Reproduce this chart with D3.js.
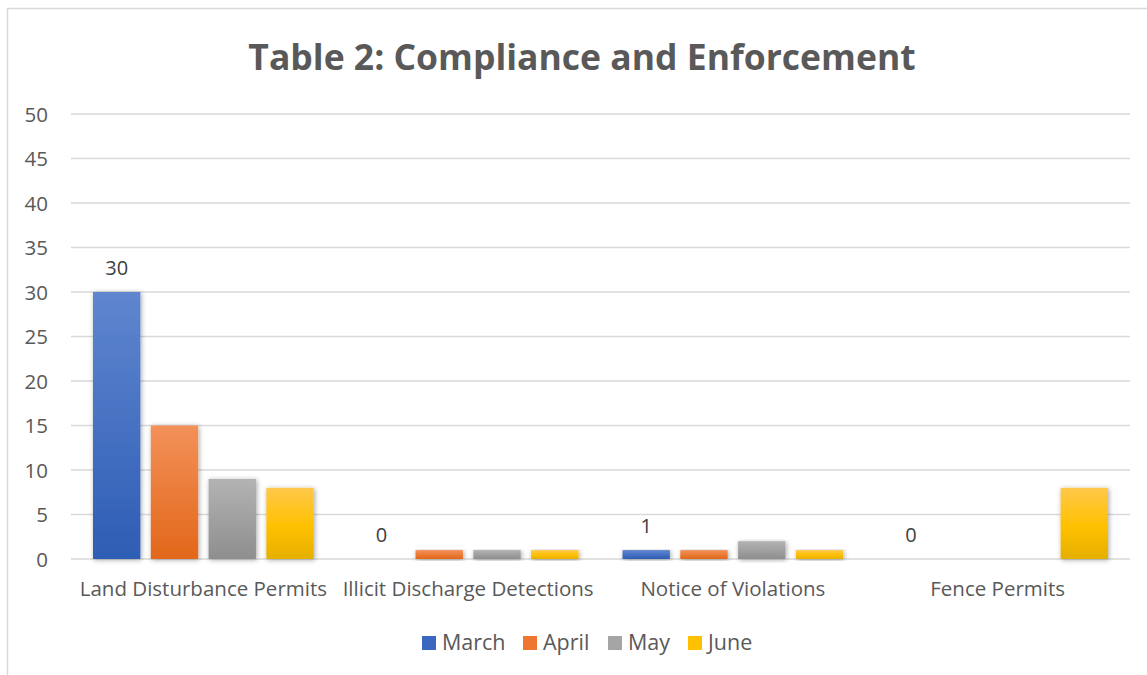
<!DOCTYPE html>
<html><head><meta charset="utf-8">
<script src="https://cdn.jsdelivr.net/npm/d3@7"></script>
<style>body{margin:0;background:#fff}svg{display:block}</style>
</head><body><svg id="c" width="1147" height="675"></svg>
<script>
const title = "Table 2: Compliance and Enforcement";
const categories = ["Land Disturbance Permits","Illicit Discharge Detections","Notice of Violations","Fence Permits"];
const seriesNames = ["March","April","May","June"];
const march = [30,0,1,0];
const april = [15,1,1,0];
const may = [9,1,2,0];
const june = [8,1,1,8];
const yTicks = [0,5,10,15,20,25,30,35,40,45,50];
const seriesValues = [march, april, may, june];
const colors = [["#5f86cf","#2e5db5"],["#f39159","#e2671a"],["#b3b3b3","#8e8e8e"],["#ffc84a","#ffc000","#e5b000"]];
const legendColors = ["#3a68c0","#ee7630","#a5a5a5","#ffc000"];

const svg = d3.select("#c");
const font = "'Open Sans', 'Liberation Sans', sans-serif";
const defs = svg.append("defs");
colors.forEach((c,i)=>{
  const g = defs.append("linearGradient").attr("id","g"+i).attr("x1",0).attr("y1",0).attr("x2",0).attr("y2",1);
  if(c.length===2){
    g.append("stop").attr("offset","0%").attr("stop-color",c[0]);
    g.append("stop").attr("offset","100%").attr("stop-color",c[1]);
  } else {
    g.append("stop").attr("offset","0%").attr("stop-color",c[0]);
    g.append("stop").attr("offset","55%").attr("stop-color",c[1]);
    g.append("stop").attr("offset","100%").attr("stop-color",c[2]);
  }
});
const f = defs.append("filter").attr("id","sh").attr("x","-30%").attr("y","-10%").attr("width","160%").attr("height","130%");
f.append("feDropShadow").attr("dx",1).attr("dy",1).attr("stdDeviation",2.5).attr("flood-color","#000").attr("flood-opacity",0.35);

// border
svg.append("path").attr("d","M7.5,675 V8.5 H1147").attr("fill","none").attr("stroke","#d9d9d9").attr("stroke-width",1.5);

const x0 = d3.scaleBand().domain(categories).range([71,1130]).paddingInner(0).paddingOuter(0);
const x1 = d3.scaleBand().domain(seriesNames).range([22, x0.bandwidth()-22]).paddingInner(0.18);
const y = d3.scaleLinear().domain([0,50]).range([559,114]);

// gridlines
svg.append("g").selectAll("line").data(yTicks).join("line")
  .attr("x1",71).attr("x2",1130).attr("y1",d=>y(d)).attr("y2",d=>y(d))
  .attr("stroke","#d9d9d9").attr("stroke-width",1.5);

// y axis labels
const yAxis = d3.axisLeft(y).tickValues(yTicks).tickSize(0).tickPadding(0);
const ya = svg.append("g").attr("transform","translate(48,0)").call(yAxis);
ya.select(".domain").remove();
ya.selectAll("text").attr("font-family",font).attr("font-size",20.5).attr("fill","#595959").attr("dy","0.35em");

// x axis labels
const xAxis = d3.axisBottom(x0).tickSize(0).tickPadding(0);
const xa = svg.append("g").attr("transform","translate(0,580)").call(xAxis);
xa.select(".domain").remove();
xa.selectAll("text").attr("font-family",font).attr("font-size",20.5).attr("fill","#595959").attr("dy","0.8em");

// bars
seriesNames.forEach((s,si)=>{
  svg.append("g").selectAll("rect").data(categories.map((c,ci)=>({c,v:seriesValues[si][ci]}))).join("rect")
    .filter(d=>d.v>0)
    .attr("x",d=>x0(d.c)+x1(s)).attr("width",x1.bandwidth())
    .attr("y",d=>y(d.v)).attr("height",d=>y(0)-y(d.v))
    .attr("fill","url(#g"+si+")").attr("filter","url(#sh)");
});

// data labels for March
svg.append("g").selectAll("text").data(categories.map((c,ci)=>({c,v:march[ci]}))).join("text")
  .attr("x",d=>x0(d.c)+x1("March")+x1.bandwidth()/2)
  .attr("y",d=>y(d.v)-17)
  .attr("text-anchor","middle").attr("font-family",font).attr("font-size",20).attr("fill","#404040")
  .text(d=>d.v);

// title
svg.append("text").attr("x",582).attr("y",70).attr("text-anchor","middle")
  .attr("font-family",font).attr("font-weight","bold").attr("font-size",35.5).attr("fill","#595959").text(title);

// legend
const legX = [422,523,608,688];
const lg = svg.append("g");
seriesNames.forEach((s,i)=>{
  lg.append("rect").attr("x",legX[i]).attr("y",636).attr("width",14).attr("height",14).attr("fill",legendColors[i]);
  lg.append("text").attr("x",legX[i]+20).attr("y",650).attr("font-family",font).attr("font-size",21.5).attr("fill","#595959").text(s);
});
</script></body></html>
